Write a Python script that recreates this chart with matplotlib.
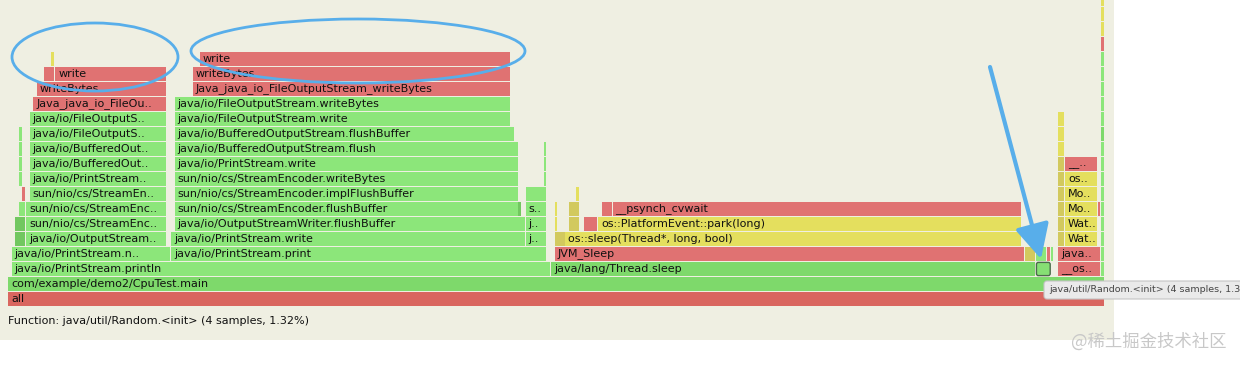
import matplotlib
matplotlib.use('Agg')
import matplotlib.pyplot as plt
from matplotlib.patches import Rectangle, Ellipse, FancyBboxPatch

# ---------------- data (flame graph frames, x in samples) ----------------
TOTAL_SAMPLES = 303

frame_names = [
    "all",
    "com/example/demo2/CpuTest.main",
    "java/io/PrintStream.println", "java/lang/Thread.sleep", "", "__os..", "",
    "java/io/PrintStream.n..", "java/io/PrintStream.print", "JVM_Sleep", "", "", "", "", "java..", "",
    "", "java/io/OutputStream..", "java/io/PrintStream.write", "j..", "", "os::sleep(Thread*, long, bool)", "", "Wat..", "",
    "", "sun/nio/cs/StreamEnc..", "java/io/OutputStreamWriter.flushBuffer", "j..", "", "", "", "os::PlatformEvent::park(long)", "", "Wat..", "",
    "", "sun/nio/cs/StreamEnc..", "sun/nio/cs/StreamEncoder.flushBuffer", "", "s..", "", "", "", "__psynch_cvwait", "", "Mo..", "", "",
    "", "sun/nio/cs/StreamEn..", "sun/nio/cs/StreamEncoder.implFlushBuffer", "", "", "", "Mo..", "",
    "", "java/io/PrintStream..", "sun/nio/cs/StreamEncoder.writeBytes", "", "", "os..", "",
    "", "java/io/BufferedOut..", "java/io/PrintStream.write", "", "", "__..", "",
    "", "java/io/BufferedOut..", "java/io/BufferedOutputStream.flush", "", "", "",
    "", "java/io/FileOutputS..", "java/io/BufferedOutputStream.flushBuffer", "", "",
    "java/io/FileOutputS..", "java/io/FileOutputStream.write", "", "",
    "Java_java_io_FileOu..", "java/io/FileOutputStream.writeBytes", "",
    "writeBytes", "Java_java_io_FileOutputStream_writeBytes", "",
    "", "write", "writeBytes", "",
    "", "write", "",
    "", "", "", "",
]
frame_depth = (
    [0] + [1] + [2] * 5 + [3] * 9 + [4] * 9 + [5] * 11 + [6] * 13 + [7] * 8 + [8] * 7 +
    [9] * 7 + [10] * 6 + [11] * 5 + [12] * 4 + [13] * 3 + [14] * 3 + [15] * 4 + [16] * 3 +
    [17, 18, 19, 20]
)
frame_start = [
    0,
    0,
    1, 150, 284, 290, 302,
    1, 45, 151, 281, 284, 287, 288, 290, 302,
    2, 5, 45, 143, 151, 154, 290, 292, 302,
    2, 5, 46, 143, 151, 155, 159, 163, 290, 292, 302,
    3, 5, 46, 141, 143, 151, 155, 164, 167, 290, 292, 301, 302,
    4, 6, 46, 143, 157, 290, 292, 302,
    3, 6, 46, 148, 290, 292, 302,
    3, 6, 46, 148, 290, 292, 302,
    3, 6, 46, 148, 290, 302,
    3, 6, 46, 290, 302,
    6, 46, 290, 302,
    7, 46, 302,
    8, 51, 302,
    10, 13, 51, 302,
    12, 53, 302,
    302, 302, 302, 302,
]
frame_end = [
    303,
    303,
    150, 284, 288, 302, 303,
    45, 149, 281, 284, 287, 288, 289, 302, 303,
    5, 44, 143, 149, 154, 280, 292, 301, 303,
    5, 44, 143, 149, 152, 158, 163, 280, 292, 301, 303,
    5, 44, 141, 142, 149, 152, 158, 167, 280, 292, 301, 302, 303,
    5, 44, 141, 149, 158, 292, 301, 303,
    4, 44, 141, 149, 292, 301, 303,
    4, 44, 141, 149, 292, 301, 303,
    4, 44, 141, 149, 292, 303,
    4, 44, 140, 292, 303,
    44, 139, 292, 303,
    44, 139, 303,
    44, 139, 303,
    13, 44, 139, 303,
    13, 139, 303,
    303, 303, 303, 303,
]
# frame type: g/G java (green shades), d dark green, r/R native red, y/o native yellow / olive, s selected
frame_kind = [
    "R",
    "G",
    "g", "G", "s", "r", "g",
    "g", "g", "r", "o", "g", "r", "g", "r", "g",
    "d", "g", "g", "g", "o", "y", "o", "y", "g",
    "d", "g", "g", "g", "y", "o", "r", "y", "o", "y", "g",
    "g", "g", "g", "d", "g", "y", "o", "r", "r", "o", "y", "r", "g",
    "r", "g", "g", "g", "y", "o", "y", "g",
    "g", "g", "g", "g", "o", "y", "g",
    "g", "g", "g", "g", "o", "r", "g",
    "g", "g", "g", "g", "y", "g",
    "g", "g", "g", "y", "G",
    "g", "g", "y", "g",
    "r", "g", "g",
    "r", "r", "g",
    "r", "r", "r", "g",
    "y", "r", "g",
    "r", "y", "y", "y",
]

status_text = "Function: java/util/Random.<init> (4 samples, 1.32%)"
tooltip_text = "java/util/Random.<init> (4 samples, 1.32%)"
watermark = "@稀土掘金技术社区"

# ---------------- style ----------------
palette = {
    "g": "#8CE67A", "G": "#7ED96B", "d": "#72C760", "s": "#86DF74",
    "r": "#E07272", "R": "#D9665F", "y": "#E4DF5E", "o": "#D2C95E",
}
BLUE = "#58AEEA"
W, H = 1240, 366
PX = 3.62      # pixels per sample
X0 = 8         # left pixel of the root frame
ROW = 15       # pixels per stack level
Y0 = 299       # pixel centre of the root frame

fig = plt.figure(figsize=(W / 100, H / 100), dpi=100)
fig.patch.set_facecolor("white")

bg = fig.add_axes([0, 0, 1, 1], zorder=0)
bg.set_xlim(0, W); bg.set_ylim(H, 0); bg.axis("off")
bg.add_patch(Rectangle((0, 0), 1114, 340, color="#EFEFE2", lw=0))

ax = fig.add_axes([0, 0, 1, 1], zorder=1)
ax.patch.set_alpha(0)
ax.axis("off")
ax.set_xlim(-X0 / PX, (W - X0) / PX)
ax.set_ylim((Y0 - H) / ROW, Y0 / ROW)

gap = 0.9 / PX
for name, d, s, e, k in zip(frame_names, frame_depth, frame_start, frame_end, frame_kind):
    if k == "s":
        ax.add_patch(FancyBboxPatch((s + 0.1, d - 0.44), e - s - 0.2, 0.88,
                                    boxstyle="round,pad=0,rounding_size=0.5",
                                    fc=palette[k], ec="#4C6A4C", lw=1.0,
                                    mutation_aspect=1 / 3.6))
        continue
    ax.barh(d, e - s - gap, left=s, height=14 / 15, color=palette[k], lw=0)
    if name:
        ax.text(s + 3 / PX, d, name, fontsize=8, va="center", ha="left",
                color="#111111", family="DejaVu Sans")

# ---------------- overlay (annotations in pixels) ----------------
ov = fig.add_axes([0, 0, 1, 1], zorder=2)
ov.patch.set_alpha(0)
ov.set_xlim(0, W); ov.set_ylim(H, 0); ov.axis("off")

ov.text(8, 321, status_text, fontsize=8, va="center", ha="left", color="#111111")

ov.add_patch(Ellipse((95, 57), 166, 68, fill=False, ec=BLUE, lw=2))
ov.add_patch(Ellipse((358, 51), 334, 64, fill=False, ec=BLUE, lw=2))
ov.annotate("", xy=(1041, 259), xytext=(990, 67),
            arrowprops=dict(arrowstyle="-|>,head_length=1.5,head_width=0.75",
                            lw=3, color=BLUE, shrinkA=0, shrinkB=0,
                            mutation_scale=14))

ov.add_patch(FancyBboxPatch((1044, 281), 210, 18,
                            boxstyle="round,pad=0,rounding_size=3",
                            fc="#EAEAEA", ec="#C4C4C4", lw=0.8, clip_on=False))
ov.text(1049, 290, tooltip_text, fontsize=6.8, va="center", ha="left",
        color="#444444", clip_on=False)

ov.text(1226, 342, watermark, fontsize=12.5, va="center", ha="right",
        color="#C8C8C8", family=["Noto Sans CJK SC", "DejaVu Sans"])

fig.savefig("out.png", dpi=100, facecolor="white")
